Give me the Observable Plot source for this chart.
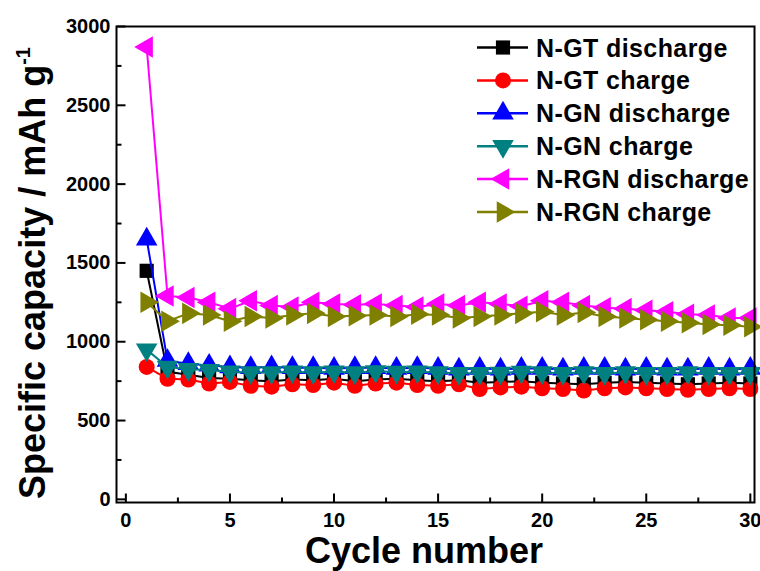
<!DOCTYPE html>
<html>
<head>
<meta charset="utf-8">
<script src="https://cdn.jsdelivr.net/npm/d3@7"></script>
<script src="https://cdn.jsdelivr.net/npm/@observablehq/plot@0.6"></script>
<style>
  html, body { margin: 0; padding: 0; background: #fff; }
  #chart { position: relative; width: 760px; height: 571px; }
</style>
</head>
<body>
<div id="chart"></div>
<script>
// ---- data ----
const cycles = d3.range(1, 31);
const seriesNames = ["N-GT discharge", "N-GT charge", "N-GN discharge", "N-GN charge", "N-RGN discharge", "N-RGN charge"];
const seriesColors = ["#000000", "#ff0000", "#0000ff", "#008080", "#ff00ff", "#808000"];
const seriesSymbols = ["square", "circle", "triangle", "triangle", "triangle", "triangle"];
const seriesRotate = [0, 0, 0, 180, -90, 90];

const gtDischarge = [1450, 810, 790, 770, 765, 755, 750, 760, 755, 765, 750, 760, 765, 755, 750, 755, 740, 745, 750, 740, 735, 730, 740, 745, 740, 735, 730, 735, 740, 735];
const gtCharge = [840, 765, 760, 735, 745, 720, 715, 730, 725, 740, 720, 735, 740, 725, 720, 730, 700, 710, 715, 705, 700, 690, 705, 710, 705, 700, 695, 700, 705, 700];
const gnDischarge = [1650, 880, 860, 850, 840, 835, 840, 835, 835, 830, 835, 835, 830, 835, 830, 825, 830, 825, 830, 830, 825, 830, 830, 825, 830, 825, 825, 830, 825, 830];
const gnCharge = [950, 840, 825, 820, 810, 805, 805, 810, 805, 810, 805, 812, 808, 810, 805, 800, 800, 802, 808, 805, 800, 805, 800, 805, 800, 800, 805, 800, 800, 800];
const rgnDischarge = [2870, 1290, 1280, 1250, 1210, 1260, 1230, 1220, 1250, 1240, 1235, 1240, 1230, 1220, 1240, 1230, 1250, 1240, 1225, 1260, 1250, 1230, 1215, 1210, 1200, 1190, 1175, 1170, 1150, 1150];
const rgnCharge = [1250, 1130, 1180, 1170, 1130, 1160, 1150, 1170, 1180, 1160, 1165, 1170, 1160, 1175, 1170, 1150, 1160, 1170, 1180, 1190, 1170, 1185, 1160, 1150, 1140, 1130, 1120, 1110, 1105, 1095];
const seriesValues = [gtDischarge, gtCharge, gnDischarge, gnCharge, rgnDischarge, rgnCharge];

const xTicks = [0, 5, 10, 15, 20, 25, 30];
const xMinor = [2.5, 7.5, 12.5, 17.5, 22.5, 27.5];
const yTicks = [0, 500, 1000, 1500, 2000, 2500, 3000];
const yMinor = [250, 750, 1250, 1750, 2250, 2750];

// ---- build ----
const font = "'Liberation Sans', Arial, sans-serif";
const marks = [];
seriesNames.forEach((name, i) => {
  const rows = cycles.map((c, j) => ({cycle: c, value: seriesValues[i][j]}));
  marks.push(Plot.line(rows, {x: "cycle", y: "value", stroke: seriesColors[i], strokeWidth: 2}));
  marks.push(Plot.dot(rows, {
    x: "cycle", y: "value", symbol: seriesSymbols[i], fill: seriesColors[i], stroke: "none",
    r: 8, rotate: seriesRotate[i]
  }));
});

// inward tick glyphs
const tickUp = len => ({draw(ctx) { ctx.moveTo(0, 0); ctx.lineTo(0, -len); }});
const tickRight = len => ({draw(ctx) { ctx.moveTo(0, 0); ctx.lineTo(len, 0); }});

const fmt = d3.format("d");
const chart = Plot.plot({
  width: 760,
  height: 571,
  marginLeft: 116,
  marginRight: 6,
  marginTop: 26,
  marginBottom: 69,
  style: {fontFamily: font, fontWeight: "bold", fontSize: "20px", color: "#000", background: "#fff", overflow: "visible"},
  x: {domain: [-0.45, 30.2]},
  y: {domain: [-20, 3000]},
  marks: [
    ...marks,
    Plot.axisX({ticks: xTicks, tickSize: 0, tickPadding: 10, tickFormat: fmt, label: null}),
    Plot.axisY({ticks: yTicks, tickSize: 0, tickPadding: 6, tickFormat: fmt, label: null}),
    Plot.dot(xTicks, {x: d => d, frameAnchor: "bottom", symbol: tickUp(9), stroke: "#000", strokeWidth: 2, fill: "none"}),
    Plot.dot(xMinor, {x: d => d, frameAnchor: "bottom", symbol: tickUp(5), stroke: "#000", strokeWidth: 2, fill: "none"}),
    Plot.dot(yTicks, {y: d => d, frameAnchor: "left", symbol: tickRight(9), stroke: "#000", strokeWidth: 2, fill: "none"}),
    Plot.dot(yMinor, {y: d => d, frameAnchor: "left", symbol: tickRight(5), stroke: "#000", strokeWidth: 2, fill: "none"}),
    Plot.frame({stroke: "#000", strokeWidth: 2})
  ]
});
document.getElementById("chart").appendChild(chart);

// ---- titles & legend ----
const svg = d3.select(chart);
svg.append("text")
  .attr("x", 424).attr("y", 563)
  .attr("text-anchor", "middle")
  .style("font-family", font).style("font-weight", "bold").style("font-size", "36px")
  .attr("fill", "#000")
  .text("Cycle number");

const yt = svg.append("text")
  .attr("transform", "translate(45,499) rotate(-90)")
  .attr("text-anchor", "start")
  .style("font-family", font).style("font-weight", "bold").style("font-size", "36px")
  .attr("fill", "#000");
yt.append("tspan").text("Specific capacity / mAh g");
yt.append("tspan").attr("dy", -15).style("font-size", "20px").text("-1");

const lg = svg.append("g");
seriesNames.forEach((name, i) => {
  const cy = 47.5 + i * 32.9;
  lg.append("line").attr("x1", 477).attr("x2", 528).attr("y1", cy).attr("y2", cy)
    .attr("stroke", seriesColors[i]).attr("stroke-width", 2.5);
  const sym = {square: d3.symbolSquare, circle: d3.symbolCircle, triangle: d3.symbolTriangle}[seriesSymbols[i]];
  lg.append("path").attr("d", d3.symbol(sym, Math.PI * 64)())
    .attr("transform", `translate(503,${cy}) rotate(${seriesRotate[i]})`)
    .attr("fill", seriesColors[i]);
  lg.append("text").attr("x", 536).attr("y", cy + 9)
    .attr("text-anchor", "start")
    .style("font-family", font).style("font-weight", "bold").style("font-size", "25px")
    .style("letter-spacing", "0.4px")
    .attr("fill", "#000").text(name);
});
</script>
</body>
</html>
